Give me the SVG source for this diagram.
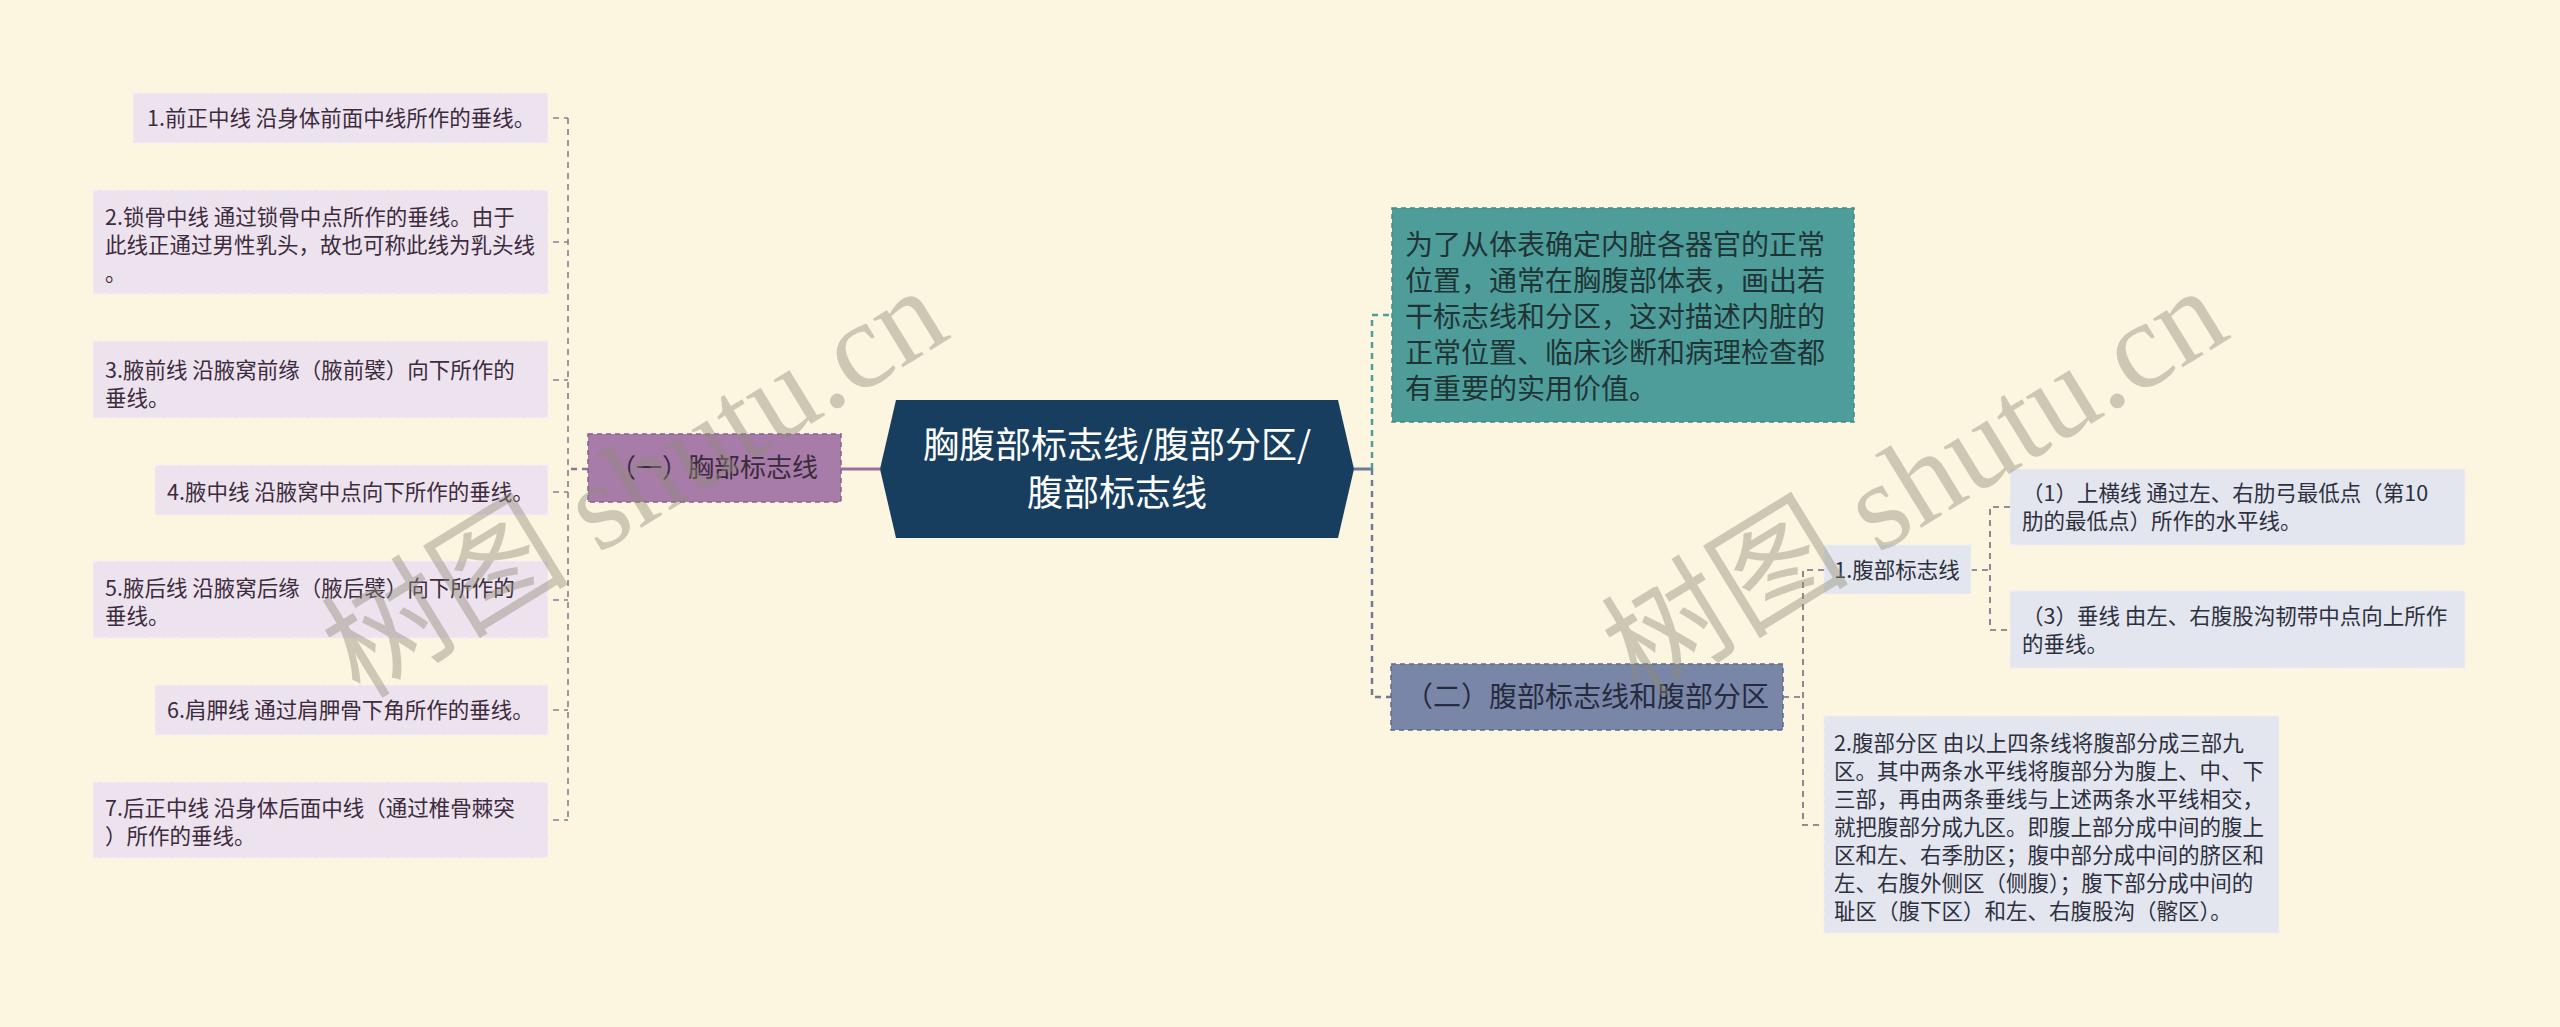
<svg xmlns="http://www.w3.org/2000/svg" width="2560" height="1027" viewBox="0 0 2560 1027">
<style>
.bg{fill:#fcf6e0}
.t{font-family:"Noto Sans CJK SC","Noto Sans",sans-serif}
.leafL{fill:#ede3ee;stroke:#f6eff6;stroke-width:1.5;stroke-dasharray:5 4}
.leafR{fill:#e3e6ee;stroke:#eef0f5;stroke-width:1.5;stroke-dasharray:5 4}
.tl{font-size:21.5px;fill:#3d2b3e}
.tr{font-size:21.5px;fill:#2e3040}
.cL{fill:none;stroke:#8d7b8e;stroke-width:1.6;stroke-dasharray:6 5}
.cP{fill:none;stroke:#9a6f9c;stroke-width:2.5;stroke-dasharray:6 5}
.cT{fill:none;stroke:#4f9d9b;stroke-width:2.5;stroke-dasharray:6 5}
.cS{fill:none;stroke:#6f7a98;stroke-width:2.5;stroke-dasharray:6 5}
.cR{fill:none;stroke:#6c707e;stroke-width:1.6;stroke-dasharray:6 5}
.wm{font-family:"Liberation Serif","Noto Sans CJK SC",serif;font-size:124px;fill:#8e8a78;opacity:0.42}
</style>
<rect class="bg" x="0" y="0" width="2560" height="1027"/>

<g id="connectors">
  <line x1="841" y1="469" x2="880" y2="469" stroke="#9a6f9c" stroke-width="3"/>
  <line class="cP" x1="588" y1="469" x2="568" y2="469"/>
  <line class="cL" x1="568" y1="118" x2="568" y2="820"/>
  <line class="cL" x1="553" y1="118" x2="568" y2="118"/>
  <line class="cL" x1="553" y1="242" x2="568" y2="242"/>
  <line class="cL" x1="553" y1="380" x2="568" y2="380"/>
  <line class="cL" x1="553" y1="492" x2="568" y2="492"/>
  <line class="cL" x1="553" y1="600" x2="568" y2="600"/>
  <line class="cL" x1="553" y1="710" x2="568" y2="710"/>
  <line class="cL" x1="553" y1="820" x2="568" y2="820"/>

  <line x1="1354" y1="469" x2="1372" y2="469" stroke="#6f7a98" stroke-width="3"/>
  <path class="cT" d="M1372 469 V315 H1392"/>
  <path class="cS" d="M1372 469 V697 H1391"/>

  <line class="cR" x1="1783" y1="697" x2="1803" y2="697"/>
  <path class="cR" d="M1824 570 H1803 V825 H1824"/>
  <line class="cR" x1="1971" y1="570" x2="1990" y2="570"/>
  <path class="cR" d="M2010 507 H1990 V630 H2010"/>
</g>

<g id="center">
  <polygon points="880,469 896,400 1338,400 1354,469 1338,538 896,538" fill="#173e5e"/>
  <text class="t" x="1117" y="458" font-size="36" fill="#ffffff" text-anchor="middle">胸腹部标志线/腹部分区/</text>
  <text class="t" x="1117" y="506" font-size="36" fill="#ffffff" text-anchor="middle">腹部标志线</text>
</g>

<g id="node-left">
  <rect x="588" y="434" width="253" height="68" fill="#a87ca9" stroke="#8a5f8c" stroke-width="1.5" stroke-dasharray="5 4"/>
  <text class="t" x="714" y="477" font-size="26" fill="#3a2b3b" text-anchor="middle">（一）胸部标志线</text>
</g>

<g id="leaf-l1">
  <rect class="leafL" x="133" y="93" width="415" height="50"/>
  <text class="t tl" x="147" y="126">1.前正中线 沿身体前面中线所作的垂线。</text>
</g>
<g id="leaf-l2">
  <rect class="leafL" x="93" y="190" width="455" height="104"/>
  <text class="t tl" x="105" y="225">2.锁骨中线 通过锁骨中点所作的垂线。由于</text>
  <text class="t tl" x="105" y="253">此线正通过男性乳头，故也可称此线为乳头线</text>
  <text class="t tl" x="105" y="281">。</text>
</g>
<g id="leaf-l3">
  <rect class="leafL" x="93" y="341" width="455" height="77"/>
  <text class="t tl" x="105" y="378">3.腋前线 沿腋窝前缘（腋前襞）向下所作的</text>
  <text class="t tl" x="105" y="406">垂线。</text>
</g>
<g id="leaf-l4">
  <rect class="leafL" x="155" y="465" width="393" height="50"/>
  <text class="t tl" x="167" y="500">4.腋中线 沿腋窝中点向下所作的垂线。</text>
</g>
<g id="leaf-l5">
  <rect class="leafL" x="93" y="561" width="455" height="77"/>
  <text class="t tl" x="105" y="596">5.腋后线 沿腋窝后缘（腋后襞）向下所作的</text>
  <text class="t tl" x="105" y="624">垂线。</text>
</g>
<g id="leaf-l6">
  <rect class="leafL" x="155" y="685" width="393" height="50"/>
  <text class="t tl" x="167" y="718">6.肩胛线 通过肩胛骨下角所作的垂线。</text>
</g>
<g id="leaf-l7">
  <rect class="leafL" x="93" y="782" width="455" height="76"/>
  <text class="t tl" x="105" y="816">7.后正中线 沿身体后面中线（通过椎骨棘突</text>
  <text class="t tl" x="105" y="844">）所作的垂线。</text>
</g>

<g id="node-intro">
  <rect x="1392" y="208" width="462" height="214" fill="#4f9d9b" stroke="#3f8987" stroke-width="1.5" stroke-dasharray="5 4"/>
  <g class="t" font-size="28" fill="#1f3535">
    <text x="1405" y="255">为了从体表确定内脏各器官的正常</text>
    <text x="1405" y="291">位置，通常在胸腹部体表，画出若</text>
    <text x="1405" y="327">干标志线和分区，这对描述内脏的</text>
    <text x="1405" y="363">正常位置、临床诊断和病理检查都</text>
    <text x="1405" y="399">有重要的实用价值。</text>
  </g>
</g>

<g id="node-abdomen">
  <rect x="1391" y="664" width="392" height="66" fill="#7a86a8" stroke="#5f6a8a" stroke-width="1.5" stroke-dasharray="5 4"/>
  <text class="t" x="1587" y="707" font-size="28" fill="#272b3e" text-anchor="middle">（二）腹部标志线和腹部分区</text>
</g>

<g id="leaf-r1">
  <rect class="leafR" x="1824" y="545" width="147" height="49"/>
  <text class="t tr" x="1897" y="578" text-anchor="middle">1.腹部标志线</text>
</g>
<g id="leaf-r1a">
  <rect class="leafR" x="2010" y="469" width="455" height="76"/>
  <text class="t tr" x="2022" y="501">（1）上横线 通过左、右肋弓最低点（第10</text>
  <text class="t tr" x="2022" y="529">肋的最低点）所作的水平线。</text>
</g>
<g id="leaf-r1b">
  <rect class="leafR" x="2010" y="591" width="455" height="77"/>
  <text class="t tr" x="2022" y="624">（3）垂线 由左、右腹股沟韧带中点向上所作</text>
  <text class="t tr" x="2022" y="652">的垂线。</text>
</g>
<g id="leaf-r2">
  <rect class="leafR" x="1824" y="716" width="455" height="217"/>
  <text class="t tr" x="1834" y="751">2.腹部分区 由以上四条线将腹部分成三部九</text>
  <text class="t tr" x="1834" y="779">区。其中两条水平线将腹部分为腹上、中、下</text>
  <text class="t tr" x="1834" y="807">三部，再由两条垂线与上述两条水平线相交，</text>
  <text class="t tr" x="1834" y="835">就把腹部分成九区。即腹上部分成中间的腹上</text>
  <text class="t tr" x="1834" y="863">区和左、右季肋区；腹中部分成中间的脐区和</text>
  <text class="t tr" x="1834" y="891">左、右腹外侧区（侧腹）；腹下部分成中间的</text>
  <text class="t tr" x="1834" y="919">耻区（腹下区）和左、右腹股沟（髂区）。</text>
</g>

<g id="watermarks">
  <text class="wm" transform="translate(360,700) rotate(-31.5)">树图 shutu.cn</text>
  <text class="wm" transform="translate(1640,700) rotate(-31.5)">树图 shutu.cn</text>
</g>
</svg>
